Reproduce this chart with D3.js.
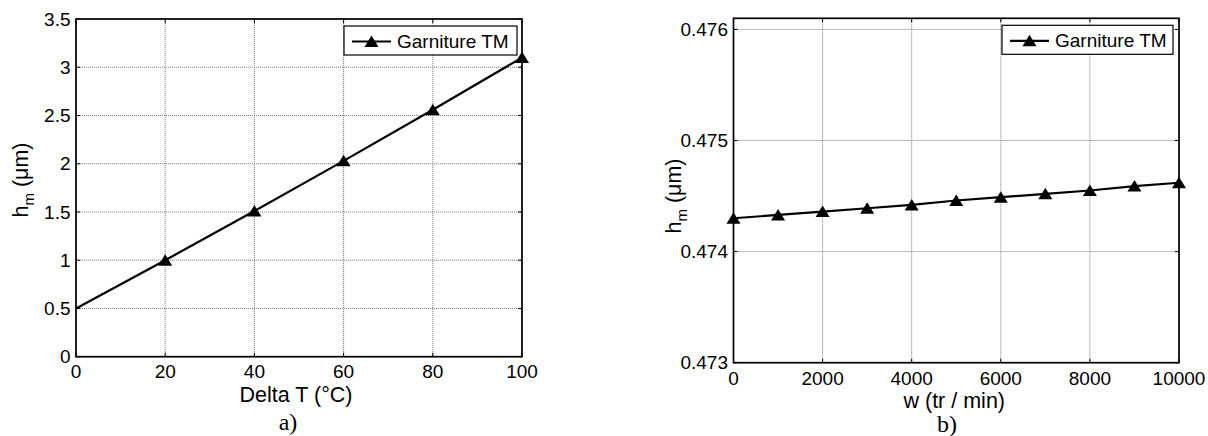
<!DOCTYPE html>
<html>
<head>
<meta charset="utf-8">
<script src="https://cdn.jsdelivr.net/npm/d3@7"></script>
<style>
  html, body { margin: 0; padding: 0; background: #fff; }
  svg { display: block; }
  text { font-family: "Liberation Sans", Arial, sans-serif; fill: #000; }
</style>
</head>
<body>
<svg id="chart" width="1208" height="436"></svg>
<script>
// ---- Data ----
const deltaT = [0, 20, 40, 60, 80, 100];
const hmA = [0.5, 1.0, 1.51, 2.03, 2.56, 3.1];
const markerA = [false, true, true, true, true, true];

const speed = [0, 1000, 2000, 3000, 4000, 5000, 6000, 7000, 8000, 9000, 10000];
const hmB = [0.47430, 0.47433, 0.47436, 0.47439, 0.47442, 0.47446, 0.47449, 0.47452, 0.47455, 0.47459, 0.47462];

const xTicksA = [0, 20, 40, 60, 80, 100];
const xTickLabelsA = ["0", "20", "40", "60", "80", "100"];
const yTicksA = [0, 0.5, 1, 1.5, 2, 2.5, 3, 3.5];
const yTickLabelsA = ["0", "0.5", "1", "1.5", "2", "2.5", "3", "3.5"];

const xTicksB = [0, 2000, 4000, 6000, 8000, 10000];
const xTickLabelsB = ["0", "2000", "4000", "6000", "8000", "10000"];
const yTicksB = [0.473, 0.474, 0.475, 0.476];
const yTickLabelsB = ["0.473", "0.474", "0.475", "0.476"];

const legendLabel = "Garniture TM";

const svg = d3.select("#chart");
const FS = 19;      // tick labels and legend
const FS_T = 21.5;  // axis titles

function panel(cfg) {
  const g = svg.append("g");
  const x = d3.scaleLinear().domain(cfg.xDomain).range([cfg.left, cfg.right]);
  const y = d3.scaleLinear().domain(cfg.yDomain).range([cfg.bottom, cfg.top]);

  // grid
  g.append("g").selectAll("line.vg").data(cfg.xTicks).join("line")
    .attr("x1", d => x(d)).attr("x2", d => x(d))
    .attr("y1", cfg.top).attr("y2", cfg.bottom)
    .attr("stroke", "#7a7a7a").attr("stroke-width", 1).attr("stroke-dasharray", "1,1");
  g.append("g").selectAll("line.hg").data(cfg.yTicks).join("line")
    .attr("x1", cfg.left).attr("x2", cfg.right)
    .attr("y1", d => y(d)).attr("y2", d => y(d))
    .attr("stroke", "#7a7a7a").attr("stroke-width", 1).attr("stroke-dasharray", "1,1");

  // inward ticks on all sides
  const tl = 4;
  const tk = g.append("g").attr("stroke", "#000").attr("stroke-width", 1);
  cfg.xTicks.forEach(d => {
    tk.append("line").attr("x1", x(d)).attr("x2", x(d)).attr("y1", cfg.bottom).attr("y2", cfg.bottom - tl);
    tk.append("line").attr("x1", x(d)).attr("x2", x(d)).attr("y1", cfg.top).attr("y2", cfg.top + tl);
  });
  cfg.yTicks.forEach(d => {
    tk.append("line").attr("y1", y(d)).attr("y2", y(d)).attr("x1", cfg.left).attr("x2", cfg.left + tl);
    tk.append("line").attr("y1", y(d)).attr("y2", y(d)).attr("x1", cfg.right).attr("x2", cfg.right - tl);
  });

  // frame
  g.append("rect").attr("x", cfg.left).attr("y", cfg.top)
    .attr("width", cfg.right - cfg.left).attr("height", cfg.bottom - cfg.top)
    .attr("fill", "none").attr("stroke", "#000").attr("stroke-width", 1.7);

  // tick labels
  g.append("g").selectAll("text").data(cfg.xTicks).join("text")
    .attr("x", d => x(d)).attr("y", cfg.xLabelY)
    .attr("text-anchor", "middle").attr("font-size", FS)
    .text((d, i) => cfg.xTickLabels[i]);
  g.append("g").selectAll("text").data(cfg.yTicks).join("text")
    .attr("x", cfg.left - 5.5).attr("y", d => y(d)).attr("dy", "0.35em")
    .attr("text-anchor", "end").attr("font-size", FS)
    .text((d, i) => cfg.yTickLabels[i]);

  // data line
  const pts = cfg.xs.map((v, i) => [v, cfg.ys[i]]);
  g.append("path").datum(pts)
    .attr("d", d3.line().x(d => x(d[0])).y(d => y(d[1])))
    .attr("fill", "none").attr("stroke", "#000").attr("stroke-width", 2.2);

  const tri = "M0,-6L7,5.5L-7,5.5Z";
  g.append("g").selectAll("path").data(pts.filter((d, i) => cfg.marks[i])).join("path")
    .attr("transform", d => `translate(${x(d[0])},${y(d[1])})`)
    .attr("d", tri).attr("fill", "#000");

  // axis titles
  g.append("text").attr("x", (cfg.left + cfg.right) / 2 + cfg.xTitleDx).attr("y", cfg.xTitleY)
    .attr("text-anchor", "middle").attr("font-size", FS_T).text(cfg.xTitle);

  const yt = g.append("text")
    .attr("transform", `translate(${cfg.yTitleX},${cfg.yTitleCy}) rotate(-90)`)
    .attr("text-anchor", "middle").attr("font-size", FS_T);
  yt.append("tspan").text("h");
  yt.append("tspan").attr("font-size", 15).attr("dy", 6).text("m");
  yt.append("tspan").attr("dy", -6).text(" (μm)");

  // legend
  const lg = g.append("g");
  lg.append("rect").attr("x", cfg.legX).attr("y", cfg.top + 7)
    .attr("width", cfg.legW).attr("height", 29)
    .attr("fill", "#fff").attr("stroke", "#000").attr("stroke-width", 1.2);
  const ly = cfg.top + 22.5;
  lg.append("line").attr("x1", cfg.legX + 8).attr("x2", cfg.legX + 47)
    .attr("y1", ly).attr("y2", ly).attr("stroke", "#000").attr("stroke-width", 2.2);
  lg.append("path").attr("transform", `translate(${cfg.legX + 27.5},${ly})`)
    .attr("d", tri).attr("fill", "#000");
  lg.append("text").attr("x", cfg.legX + 53).attr("y", ly).attr("dy", "0.35em")
    .attr("font-size", FS).text(legendLabel);

  // caption
  svg.append("text").attr("x", cfg.capX).attr("y", cfg.capY)
    .attr("text-anchor", "middle").attr("font-size", 24)
    .style("font-family", "'Liberation Serif', 'Times New Roman', serif")
    .text(cfg.caption);
}

panel({
  xs: deltaT, ys: hmA, marks: markerA,
  xDomain: [0, 100], yDomain: [0, 3.5],
  left: 76, right: 522, top: 19, bottom: 356.7,
  xTicks: xTicksA, xTickLabels: xTickLabelsA,
  yTicks: yTicksA, yTickLabels: yTickLabelsA,
  xLabelY: 378, xTitle: "Delta T (°C)", xTitleY: 402, xTitleDx: -3,
  yTitleX: 28, yTitleCy: 180,
  legX: 344, legW: 173,
  caption: "a)", capX: 288, capY: 430
});

panel({
  xs: speed, ys: hmB, marks: speed.map(() => true),
  xDomain: [0, 10000], yDomain: [0.473, 0.4761],
  left: 733.5, right: 1179, top: 18.3, bottom: 362.7,
  xTicks: xTicksB, xTickLabels: xTickLabelsB,
  yTicks: yTicksB, yTickLabels: yTickLabelsB,
  xLabelY: 385, xTitle: "w (tr / min)", xTitleY: 408, xTitleDx: -2,
  yTitleX: 681, yTitleCy: 196,
  legX: 1002, legW: 171,
  caption: "b)", capX: 947, capY: 432
});
</script>
</body>
</html>
